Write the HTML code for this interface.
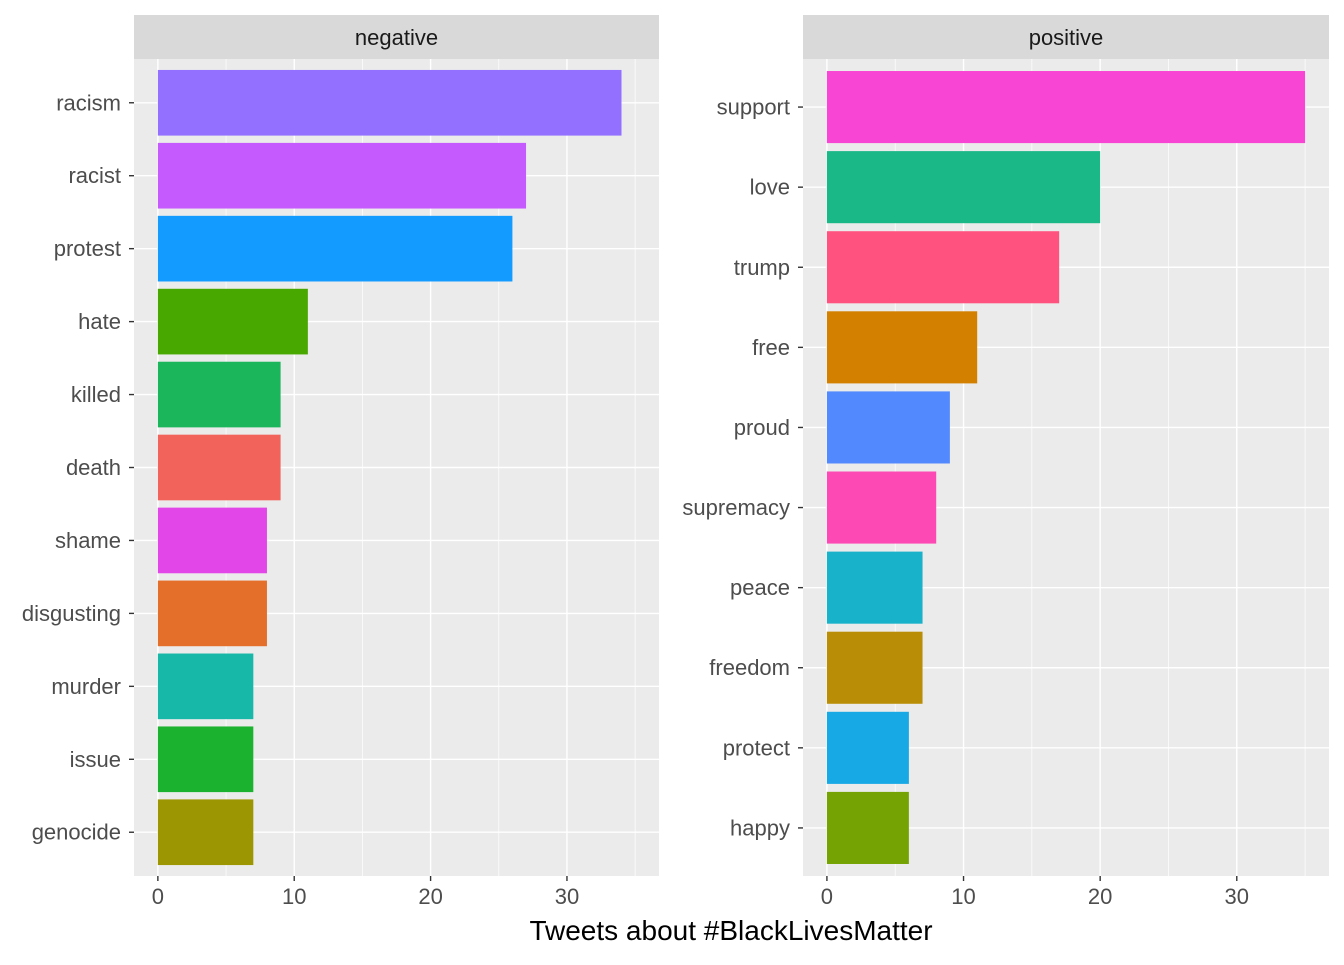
<!DOCTYPE html>
<html><head><meta charset="utf-8"><style>
body{margin:0;background:#fff;}
svg text{font-family:"Liberation Sans",Arial,sans-serif;}
</style></head><body>
<svg id="c" width="1344" height="960" xmlns="http://www.w3.org/2000/svg"></svg>
<script>
const negWords=["racism","racist","protest","hate","killed","death","shame","disgusting","murder","issue","genocide"];
const negVals=[34,27,26,11,9,9,8,8,7,7,7];
const negColors=["#9370FF","#C55BFF","#149BFF","#49A800","#1BB55C","#F2635B","#E346E8","#E46F2B","#17B8A8","#1BB22F","#9B9602"];
const posWords=["support","love","trump","free","proud","supremacy","peace","freedom","protect","happy"];
const posVals=[35,20,17,11,9,8,7,7,6,6];
const posColors=["#F945D4","#1AB886","#FF527F","#D37F00","#5289FF","#FD49B4","#19B2CB","#B98E06","#17A8E6","#75A303"];
const xTicks=[0,10,20,30];
const xMin=-1.75,xMax=36.75;
const NS="http://www.w3.org/2000/svg";
const svg=document.getElementById('c');
function el(t,a,p){const e=document.createElementNS(NS,t);for(const k in a)e.setAttribute(k,a[k]);(p||svg).appendChild(e);return e;}
const yTop=59,yBottom=876;
function panel(name,x0,x1,words,vals,cols){
  const g=el('g',{});
  
  
  const sx=v=>x0+(v-xMin)/(xMax-xMin)*(x1-x0);
  const n=words.length;const step=(yBottom-yTop)/(n+0.2);
  const sy=i=>yTop+step*(0.6+i);
  el('rect',{x:x0,y:yTop,width:x1-x0,height:yBottom-yTop,fill:'#ebebeb'},g);
  const strip=el('rect',{x:x0,y:15,width:x1-x0,height:yTop-15,fill:'#d9d9d9'},g);
  
  
  const st=el('text',{x:(x0+x1)/2,y:45,'text-anchor':'middle','font-size':'22',fill:'#1a1a1a'},g);st.textContent=name;
  
  
  for(const t of [5,15,25,35]){const x=sx(t);el('line',{x1:x,x2:x,y1:yTop,y2:yBottom,stroke:'#fff','stroke-width':0.7},g);}
  for(const t of xTicks){const x=sx(t);el('line',{x1:x,x2:x,y1:yTop,y2:yBottom,stroke:'#fff','stroke-width':1.4},g);
    el('line',{x1:x,x2:x,y1:yBottom,y2:yBottom+5,stroke:'#333','stroke-width':1.4},g);
    const tx=el('text',{x:x,y:904,'text-anchor':'middle','font-size':'22',fill:'#4d4d4d'},g);tx.textContent=t;
    
    }
  words.forEach((w,i)=>{const y=sy(i);
    el('line',{x1:x0,x2:x1,y1:y,y2:y,stroke:'#fff','stroke-width':1.4},g);
    el('line',{x1:x0-5,x2:x0,y1:y,y2:y,stroke:'#333','stroke-width':1.4},g);
    const h=step*0.9;
    const b=el('rect',{x:sx(0),y:y-h/2,width:sx(vals[i])-sx(0),height:h,fill:cols[i]},g);
    
    
    const l=el('text',{x:x0-13,y:y+7.5,'text-anchor':'end','font-size':'22',fill:'#4d4d4d'},g);l.textContent=w;
    
    
  });
}
panel('negative',134,659,negWords,negVals,negColors);
panel('positive',803,1329,posWords,posVals,posColors);
const t=el('text',{x:731,y:940,'text-anchor':'middle','font-size':'28',fill:'#000'});t.textContent='Tweets about #BlackLivesMatter';


</script>
</body></html>
